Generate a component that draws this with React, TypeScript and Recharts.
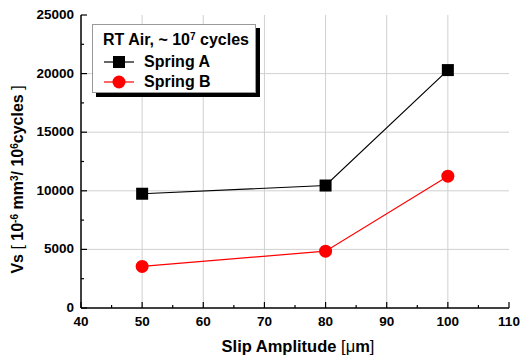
import React from 'react';
import { LineChart, Line, XAxis, YAxis, ReferenceLine, Legend, Label } from 'recharts';

// slip amplitude (um) and wear volume for both springs
const slip = [50, 80, 100];
const springA = [9750, 10450, 20300];
const springB = [3550, 4850, 11250];

const xMajor = [40, 50, 60, 70, 80, 90, 100, 110];
const xMinor = [45, 55, 65, 75, 85, 95, 105];
const yMajor = [0, 5000, 10000, 15000, 20000, 25000];
const yMinor = [2500, 7500, 12500, 17500, 22500];

const xGrid = [50, 60, 70, 80, 90, 100];
const yGrid = [5000, 10000, 15000, 20000];

const data = slip.map((s, i) => ({ slip: s, a: springA[i], b: springB[i] }));
const xTicks = [...xMajor, ...xMinor].sort((p, q) => p - q);
const yTicks = [...yMajor, ...yMinor].sort((p, q) => p - q);

const FONT = '"Liberation Sans", Arial, sans-serif';
const M = 6;

const BottomTick = (p: any) => {
  const { x, y, payload } = p;
  const edge = y - M;
  const major = xMajor.includes(payload.value);
  return (
    <g>
      <line x1={x} x2={x} y1={edge} y2={edge - (major ? 6 : 3)} stroke="#000" strokeWidth={1.2} />
      {major && (
        <text x={x} y={edge + 18} textAnchor="middle" fontFamily={FONT} fontWeight="bold" fontSize={13.5} fill="#000">
          {payload.value}
        </text>
      )}
    </g>
  );
};

const TopTick = (p: any) => {
  const { x, y, payload } = p;
  const edge = y + M;
  const major = xMajor.includes(payload.value);
  return <line x1={x} x2={x} y1={edge} y2={edge + (major ? 6 : 3)} stroke="#000" strokeWidth={1.2} />;
};

const LeftTick = (p: any) => {
  const { x, y, payload } = p;
  const edge = x + M;
  const major = yMajor.includes(payload.value);
  return (
    <g>
      <line x1={edge} x2={edge + (major ? 6 : 3)} y1={y} y2={y} stroke="#000" strokeWidth={1.2} />
      {major && (
        <text x={edge - 7} y={y + 4} textAnchor="end" fontFamily={FONT} fontWeight="bold" fontSize={13.5} fill="#000">
          {payload.value}
        </text>
      )}
    </g>
  );
};

const RightTick = (p: any) => {
  const { x, y, payload } = p;
  const edge = x - M;
  const major = yMajor.includes(payload.value);
  return <line x1={edge} x2={edge - (major ? 6 : 3)} y1={y} y2={y} stroke="#000" strokeWidth={1.2} />;
};

const Square = (p: any) => {
  const { cx, cy } = p;
  return <rect x={cx - 6} y={cy - 6} width={12} height={12} fill="#000" />;
};

const Dot = (p: any) => {
  const { cx, cy } = p;
  return <circle cx={cx} cy={cy} r={6.5} fill="#ff0000" />;
};

const LegendBox = () => (
  <div
    style={{
      fontFamily: FONT,
      fontWeight: 'bold',
      background: '#fff',
      border: '1px solid #999',
      boxShadow: '4px 4px 0 #000',
      padding: '5px 4px 0 10px',
      width: 148,
      height: 62,
      color: '#000',
    }}
  >
    <div style={{ fontSize: 16, lineHeight: '20px', whiteSpace: 'nowrap', marginBottom: 2 }}>
      RT Air, ~ 10<sup style={{ fontSize: 10, verticalAlign: 'top', position: 'relative', top: -3 }}>7</sup> cycles
    </div>
    {[
      { name: 'Spring A', color: '#000', shape: 'square' },
      { name: 'Spring B', color: '#ff0000', shape: 'circle' },
    ].map((s) => (
      <div key={s.name} style={{ display: 'flex', alignItems: 'center', fontSize: 16, lineHeight: '20px' }}>
        <svg width={36} height={14} style={{ marginRight: 5 }}>
          <line x1={1} x2={31} y1={7} y2={7} stroke={s.color} strokeWidth={1.2} />
          {s.shape === 'square' ? (
            <rect x={10} y={1} width={12} height={12} fill={s.color} />
          ) : (
            <circle cx={16} cy={7} r={6.5} fill={s.color} />
          )}
        </svg>
        <span>{s.name}</span>
      </div>
    ))}
  </div>
);

const YTitle = (p: any) => {
  const { viewBox } = p;
  const cx = 23;
  const cy = viewBox.y + viewBox.height / 2 + 18;
  return (
    <text
      x={cx}
      y={cy}
      transform={`rotate(-90, ${cx}, ${cy})`}
      textAnchor="middle"
      fontFamily={FONT}
      fontWeight="bold"
      fontSize={16}
      fill="#000"
    >
      Vs <tspan fontWeight="normal">[</tspan> 10<tspan fontSize={10} baselineShift="super">-6</tspan> mm<tspan fontSize={10} baselineShift="super">3</tspan>/ 10<tspan fontSize={10} baselineShift="super">6</tspan>cycles <tspan fontWeight="normal">]</tspan>
    </text>
  );
};

const XTitle = (p: any) => {
  const { viewBox } = p;
  const cx = viewBox.x + viewBox.width / 2 + 3;
  return (
    <text x={cx} y={352} textAnchor="middle" fontFamily={FONT} fontWeight="bold" fontSize={16.5} fill="#000">
      Slip Amplitude <tspan fontWeight="normal">[</tspan><tspan fontWeight="normal">μ</tspan>m<tspan fontWeight="normal">]</tspan>
    </text>
  );
};

export default function App() {
  return (
    <div style={{ position: 'absolute', left: 0, top: 0, background: '#fff' }}>
      <LineChart width={524} height={356} data={data} margin={{ top: 15, right: 15, left: 0, bottom: 0 }}>
        <XAxis
          xAxisId="b"
          dataKey="slip"
          type="number"
          domain={[40, 110]}
          ticks={xTicks}
          interval={0}
          tickSize={0}
          tickMargin={M}
          tickLine={false}
          tick={BottomTick}
          height={48}
          axisLine={{ stroke: '#000', strokeWidth: 1.5 }}
        >
          <Label content={XTitle} />
        </XAxis>
        <XAxis
          xAxisId="t"
          orientation="top"
          dataKey="slip"
          type="number"
          domain={[40, 110]}
          ticks={xTicks}
          interval={0}
          tickSize={0}
          tickMargin={M}
          tickLine={false}
          tick={TopTick}
          height={0}
          axisLine={{ stroke: '#000', strokeWidth: 1.5 }}
        />
        <YAxis
          yAxisId="l"
          type="number"
          domain={[0, 25000]}
          ticks={yTicks}
          interval={0}
          tickSize={0}
          tickMargin={M}
          tickLine={false}
          tick={LeftTick}
          width={81}
          axisLine={{ stroke: '#000', strokeWidth: 1.5 }}
        >
          <Label content={YTitle} />
        </YAxis>
        <YAxis
          yAxisId="r"
          orientation="right"
          type="number"
          domain={[0, 25000]}
          ticks={yTicks}
          interval={0}
          tickSize={0}
          tickMargin={M}
          tickLine={false}
          tick={RightTick}
          width={0}
          axisLine={{ stroke: '#000', strokeWidth: 1.5 }}
        />
        {xGrid.map((v) => (
          <ReferenceLine key={'x' + v} xAxisId="b" yAxisId="l" x={v} stroke="#d0d0d0" strokeWidth={1} />
        ))}
        {yGrid.map((v) => (
          <ReferenceLine key={'y' + v} xAxisId="b" yAxisId="l" y={v} stroke="#d0d0d0" strokeWidth={1} />
        ))}
        <Line
          xAxisId="b"
          yAxisId="l"
          dataKey="a"
          name="Spring A"
          stroke="#000"
          strokeWidth={1.2}
          dot={Square}
          isAnimationActive={false}
        />
        <Line
          xAxisId="b"
          yAxisId="l"
          dataKey="b"
          name="Spring B"
          stroke="#ff0000"
          strokeWidth={1.2}
          dot={Dot}
          isAnimationActive={false}
        />
        <Legend
          layout="vertical"
          verticalAlign="middle"
          align="center"
          content={LegendBox}
          wrapperStyle={{ position: 'absolute', left: 92, top: 24, width: 'auto', height: 'auto' }}
        />
      </LineChart>
    </div>
  );
}
